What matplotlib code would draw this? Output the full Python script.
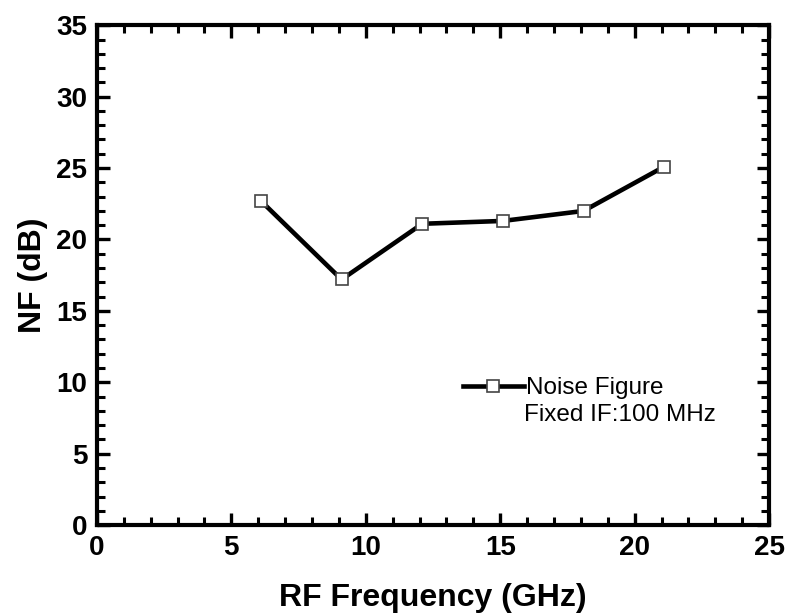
import matplotlib
matplotlib.use("Agg")
import matplotlib.pyplot as plt
from matplotlib.ticker import MultipleLocator

plt.rcParams['font.family'] = ['Liberation Sans', 'DejaVu Sans']

# RF frequency (GHz) vs noise figure (dB), IF fixed at 100 MHz
rf_ghz = [6.1, 9.1, 12.1, 15.1, 18.1, 21.1]
nf_db = [22.7, 17.2, 21.1, 21.3, 22.0, 25.1]

fig = plt.figure(figsize=(7.88, 6.15), dpi=100)
ax = fig.add_axes([0.123, 0.146, 0.853, 0.813])

ax.plot(rf_ghz, nf_db, color="black", lw=3.3, marker="s", ms=8,
        mfc="white", mec="#444444", mew=1.2, label="Noise Figure")

ax.set_xlim(0, 25)
ax.set_ylim(0, 35)
ax.xaxis.set_major_locator(MultipleLocator(5))
ax.xaxis.set_minor_locator(MultipleLocator(1))
ax.yaxis.set_major_locator(MultipleLocator(5))
ax.yaxis.set_minor_locator(MultipleLocator(1))

ax.tick_params(which="both", direction="in", top=True, right=True)
ax.tick_params(which="major", length=9, width=2.4, pad=7, labelsize=20)
ax.tick_params(which="minor", length=5.5, width=2.2)
for lab in ax.get_xticklabels() + ax.get_yticklabels():
    lab.set_fontweight("bold")
for s in ax.spines.values():
    s.set_linewidth(3)

ax.set_xlabel("RF Frequency (GHz)", fontsize=23, fontweight="bold", labelpad=16)
ax.set_ylabel("NF (dB)", fontsize=23, fontweight="bold", labelpad=6)

leg = ax.legend(loc="upper left", bbox_to_anchor=(0.53, 0.315), frameon=False,
                fontsize=17.5, handlelength=2.5, handletextpad=0.1,
                borderaxespad=0)
ax.text(0.635, 0.22, "Fixed IF:100 MHz", transform=ax.transAxes,
        fontsize=17.5, va="center", ha="left")

fig.savefig("out.png", dpi=100)
